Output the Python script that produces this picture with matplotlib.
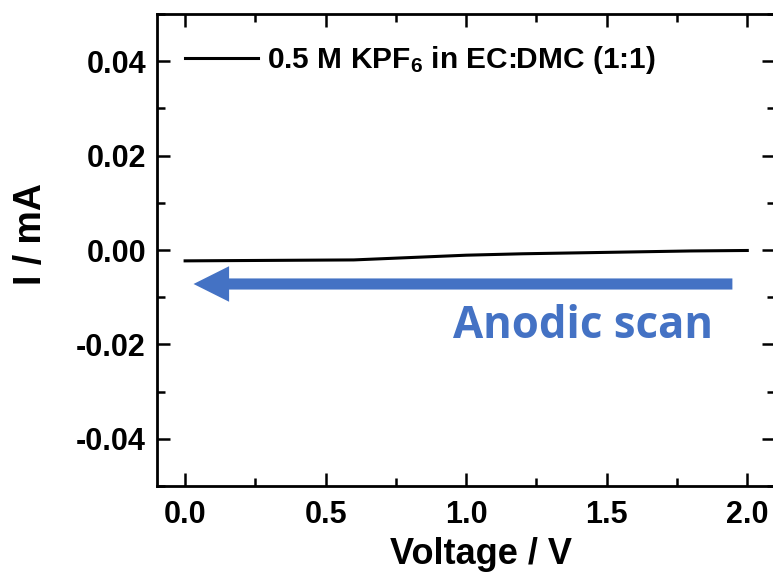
import matplotlib
matplotlib.use("Agg")
import matplotlib.pyplot as plt
from matplotlib.ticker import MultipleLocator

voltage = [0.0, 0.3, 0.6, 0.8, 1.0, 1.2, 1.4, 1.6, 1.8, 2.0]
current = [-0.0023, -0.0022, -0.0021, -0.0016, -0.0011, -0.0008, -0.0006, -0.0004, -0.0002, -0.0001]
series_label = r"0.5 M KPF$_\mathbf{6}$ in EC:DMC (1:1)"
x_ticks = [0.0, 0.5, 1.0, 1.5, 2.0]
y_ticks = [-0.04, -0.02, 0.00, 0.02, 0.04]

plt.rcParams['font.family'] = ['Liberation Sans', 'DejaVu Sans']
plt.rcParams['font.weight'] = 'bold'
plt.rcParams['mathtext.fontset'] = 'custom'
plt.rcParams['mathtext.bf'] = 'Liberation Sans:bold'
plt.rcParams['mathtext.rm'] = 'Liberation Sans:bold'
plt.rcParams['mathtext.default'] = 'bf'

fig = plt.figure(figsize=(7.73, 5.81), dpi=100)
ax = fig.add_axes([0.2031, 0.1635, 0.8, 0.8124])

ax.plot(voltage, current, color='black', lw=2.2, label=series_label)

ax.set_xlim(-0.1, 2.1)
ax.set_ylim(-0.05, 0.05)
ax.set_xticks(x_ticks)
ax.set_xticklabels([f"{v:.1f}" for v in x_ticks])
ax.set_yticks(y_ticks)
ax.set_yticklabels([f"{v:.2f}" for v in y_ticks])
ax.xaxis.set_minor_locator(MultipleLocator(0.25))
ax.yaxis.set_minor_locator(MultipleLocator(0.01))
ax.tick_params(which='both', direction='in', top=True, right=True, width=1.8)
ax.tick_params(which='major', length=9.5, labelsize=22)
ax.tick_params(which='minor', length=5.5)
ax.tick_params(axis='y', which='major', pad=8)
ax.tick_params(axis='x', which='major', pad=10)
for lab in ax.get_xticklabels() + ax.get_yticklabels():
    lab.set_fontweight('bold')
for s in ax.spines.values():
    s.set_linewidth(2.0)

ax.set_xlabel("Voltage / V", fontsize=26, fontweight='bold')
ax.set_ylabel("I / mA", fontsize=27, fontweight='bold')
ax.xaxis.set_label_coords(0.524, -0.108)
ax.yaxis.set_label_coords(-0.174, 0.534)

leg = ax.legend(loc='center left', bbox_to_anchor=(0.0453, 0.9025), frameon=False,
                handlelength=2.45, handletextpad=0.3, borderaxespad=0, borderpad=0,
                prop={'weight': 'bold', 'size': 21.5})

ax.annotate('', xy=(0.03, -0.0072), xytext=(1.947, -0.0072),
            arrowprops=dict(arrowstyle='simple,head_length=1.6,head_width=1.6,tail_width=0.5',
                            color='#4472C4', mutation_scale=16, shrinkA=0, shrinkB=0, lw=0))
ax.text(1.417, -0.0162, "Anodic scan", color='#4472C4', fontsize=31.5, fontweight='bold',
        family=['Open Sans', 'DejaVu Sans'], ha='center', va='center')

fig.savefig("out.png", dpi=100)
